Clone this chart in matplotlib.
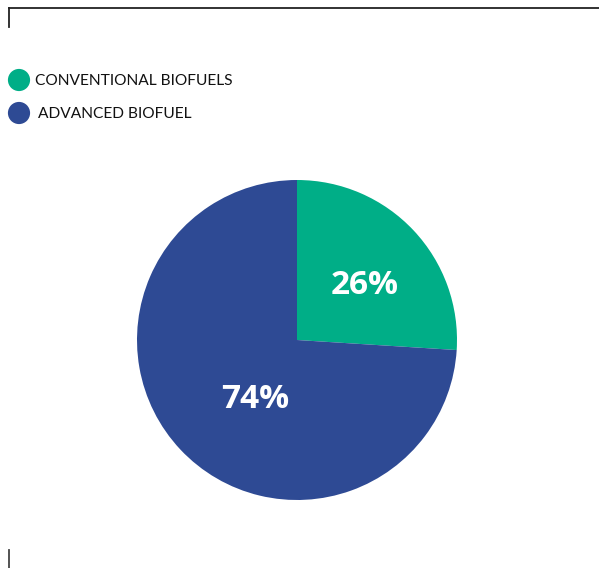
import matplotlib.pyplot as plt
from matplotlib.lines import Line2D

labels = ['CONVENTIONAL BIOFUELS', 'ADVANCED BIOFUEL']
shares = [26, 74]
colors = ['#00ae87', '#2e4a94']

W, H = 599, 568
fig = plt.figure(figsize=(W / 100, H / 100), dpi=100)

# overlay in pixel coordinates for frame lines and the legend
ov = fig.add_axes([0, 0, 1, 1])
ov.set_xlim(0, W)
ov.set_ylim(H, 0)
ov.axis('off')
ov.add_line(Line2D([8.5, W], [7.5, 7.5], color='#222222', lw=1.3))
ov.add_line(Line2D([8.5, 8.5], [7.5, 27], color='#222222', lw=1.3))
ov.add_line(Line2D([8.5, 8.5], [550, H], color='#444444', lw=1.3))

leg_y = [80, 113]
leg_tx = [35, 38]
for lab, col, y, tx in zip(labels, colors, leg_y, leg_tx):
    ov.scatter([19], [y], s=255, color=col, edgecolors='none')
    ov.text(tx, y + 1, lab, fontsize=11.2, family='Lato', color='#111111',
            va='center', ha='left')

# pie: centre (297, 340), radius 160 px
cx, cy, r = 297, 340, 160
ax = fig.add_axes([(cx - r) / W, (H - cy - r) / H, 2 * r / W, 2 * r / H])
wedges, _ = ax.pie(shares, colors=colors, startangle=90, counterclock=False,
                   radius=1, wedgeprops=dict(linewidth=0))
ax.set_xlim(-1, 1)
ax.set_ylim(-1, 1)
ax.set_aspect('equal')

label_pos = [(0.42, 0.34), (-0.26, -0.37)]
for v, (x, y) in zip(shares, label_pos):
    ax.text(x, y, f'{v}%', fontsize=24, fontweight='bold', family='Open Sans',
            color='white', ha='center', va='center')

fig.savefig('out.png', dpi=100)
